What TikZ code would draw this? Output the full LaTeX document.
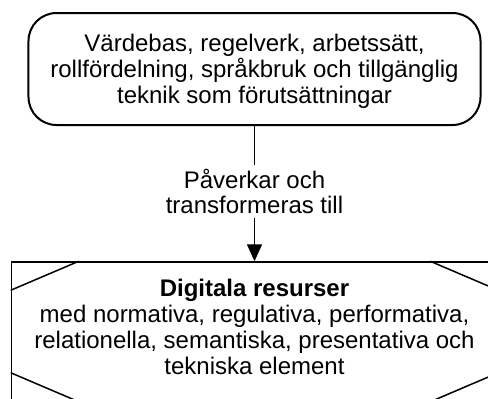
\documentclass[tikz,border=0pt]{standalone}
\usepackage{fontspec}
\setmainfont{Liberation Sans}
\usetikzlibrary{arrows.meta}

\begin{document}
\begin{tikzpicture}[x=1bp, y=-1bp,
    font=\fontsize{24bp}{26bp}\selectfont,
    base/.style={draw, rounded corners=28bp, line width=2bp, minimum width=452bp, minimum height=112bp, align=center, text depth=0bp},
    resbox/.style={draw, line width=1.5bp, minimum width=486bp, minimum height=139bp, align=center, text depth=10bp},
    cut/.style={line width=1.5bp},
    flow/.style={line width=1.6bp, -{Triangle[width=15bp,length=17bp]}}]
  \useasboundingbox (0,0) rectangle (488,398);

  % Conditions at the top
  \node[base] (base) at (254.5,69) {V\"ardebas, regelverk, arbetss\"att,\\rollf\"ordelning, spr\r{a}kbruk och tillg\"anglig\\teknik som f\"oruts\"attningar};

  % Digital resources at the bottom
  \node[resbox] (res) at (254.5,331.5) {\textbf{Digitala resurser}\\med normativa, regulativa, performativa,\\relationella, semantiska, presentativa och\\tekniska element};

  % Corner cuts of the resource box
  \foreach \c/\sx/\sy in {north west/1/-1, north east/-1/-1, south west/1/1, south east/-1/1} {
    \draw[cut] ([xshift=\sx*68bp]res.\c) -- ([yshift=\sy*29bp]res.\c);
  }

  % Arrow with its label
  \draw[flow] (base.south) -- node[fill=white, inner ysep=4bp, align=center, font=\fontsize{24bp}{25bp}\selectfont, yshift=2bp] (lbl) {P\r{a}verkar och\\transformeras till} (res.north);
\end{tikzpicture}
\end{document}
